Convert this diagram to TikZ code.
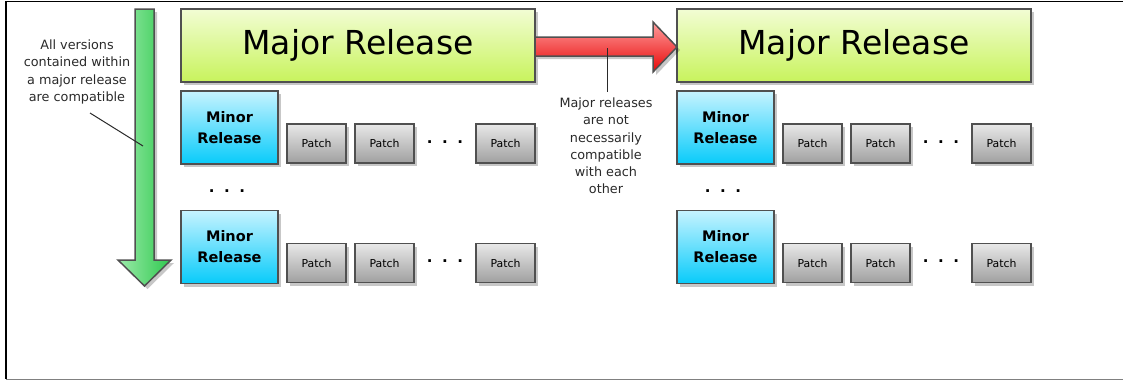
\documentclass[tikz,border=0pt]{standalone}
\usepackage{fontspec}
\setmainfont{DejaVu Sans}
\usetikzlibrary{shadows}
\definecolor{edgegray}{HTML}{505050}
\definecolor{notegray}{HTML}{2A2A2A}
\definecolor{majtop}{HTML}{F2FDD4}
\definecolor{majbot}{HTML}{C8F35C}
\definecolor{mintop}{HTML}{C6F3FF}
\definecolor{minbot}{HTML}{08CBFA}
\definecolor{pattop}{HTML}{E8E8E8}
\definecolor{patbot}{HTML}{A0A0A0}
\definecolor{grnleft}{HTML}{9CEBAA}
\definecolor{grnright}{HTML}{2EC84E}
\definecolor{redtop}{HTML}{FF9C9C}
\definecolor{redmid}{HTML}{FF3A3A}
\definecolor{redbot}{HTML}{E80808}
\tikzset{
  softshadow/.style={drop shadow={shadow xshift=3pt, shadow yshift=-3pt, fill=black, opacity=0.22}},
  box/.style={draw=edgegray, line width=1.5pt, inner sep=0pt, align=center, softshadow},
  majorbox/.style={box, minimum width=354pt, minimum height=73pt, top color=majtop, bottom color=majbot,
    font=\fontsize{33}{38}\selectfont},
  minorbox/.style={box, minimum width=97pt, minimum height=73pt, top color=mintop, bottom color=minbot,
    font=\fontsize{14.5}{21}\selectfont\bfseries},
  patchbox/.style={box, minimum width=59pt, minimum height=39pt, top color=pattop, bottom color=patbot,
    font=\fontsize{10.9}{12}\selectfont},
  dots/.style={inner sep=0pt, font=\fontsize{15}{15}\selectfont\bfseries},
  note/.style={inner sep=0pt, align=center, text=notegray, font=\fontsize{12.8}{17.2}\selectfont},
  leader/.style={draw=notegray, line width=1pt}
}
\begin{document}
\begin{tikzpicture}[x=1pt, y=-1pt]
\useasboundingbox (0,0) rectangle (1123,381);
% frame
\draw[line width=1.3pt] (1123,1.5) -- (6,1.5) -- (6,379);
\draw[gray, line width=1pt] (6,379) -- (1123,379);
% green arrow: compatible within a major release
\path[softshadow, draw=edgegray, line width=1.5pt, left color=grnleft, right color=grnright]
  (135,9) -- (154,9) -- (154,260) -- (171,260) -- (144.5,286) -- (118,260) -- (135,260) -- cycle;
% the two major releases
\foreach \dx/\s in {0/a, 496/b} {
  \node[majorbox] (major\s) at (358+\dx,45.5) {Major Release};
  \foreach \dy/\r in {0/1, 119.5/2} {
    \node[minorbox] (minor\s\r) at (229.5+\dx,127.5+\dy) {Minor\\Release};
    \foreach \xp/\k in {316.5/1, 384.5/2, 505.5/3}
      \node[patchbox] (patch\s\r\k) at (\xp+\dx,143.5+\dy) {Patch};
    \node[dots] (dots\s\r) at (445+\dx,142+\dy) {.\hspace{9.5pt}.\hspace{9.5pt}.};
  }
  \node[dots] (vdots\s) at (227+\dx,191) {.\hspace{9.5pt}.\hspace{9.5pt}.};
}
% red arrow between the majors
\path[softshadow, draw=edgegray, line width=1.5pt, top color=redtop, middle color=redmid, bottom color=redbot]
  (535,37) -- (653,37) -- (653,22) -- (677,47) -- (653,72) -- (653,56) -- (535,56) -- cycle;
% notes
\node[note] (notea) at (77,72) {All versions\\contained within\\a major release\\are compatible};
\node[note] (noteb) at (606,146) {Major releases\\are not\\necessarily\\compatible\\with each\\other};
\coordinate (notealeg) at (90,113);
\coordinate (noteatip) at (143,146);
\coordinate (notebtip) at (607,48);
\coordinate (noteblow) at (607,92);
\draw[leader] (notealeg) -- (noteatip);
\draw[leader] (notebtip) -- (noteblow);
\end{tikzpicture}
\end{document}
